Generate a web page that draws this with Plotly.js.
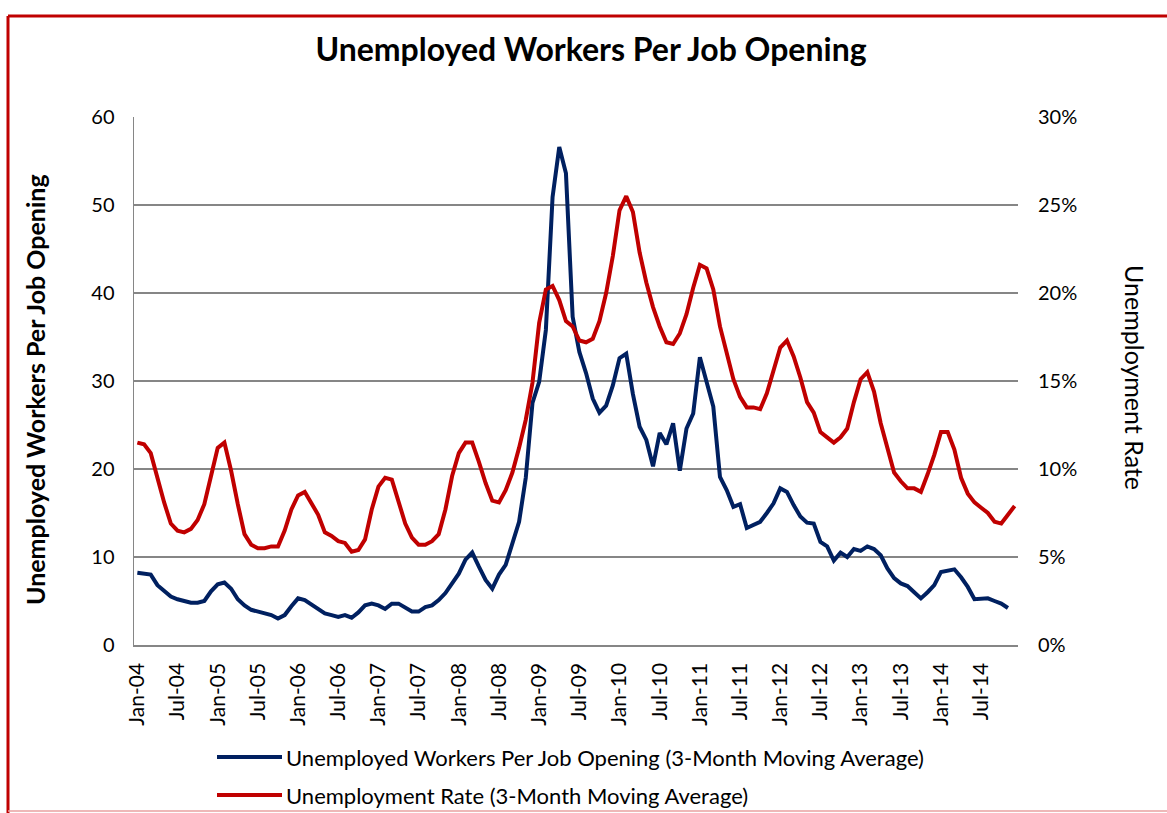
<!DOCTYPE html>
<html><head><meta charset="utf-8">
<script src="https://cdn.plot.ly/plotly-3.0.1.min.js"></script>
<style>html,body{margin:0;padding:0;background:#fff;} #chart{width:1167px;height:813px;}</style>
</head><body><div id="chart"></div>
<script>
// Categories (monthly, Jan-04 .. Dec-14)
const years = ['04','05','06','07','08','09','10','11','12','13','14'];
const monthNames = ['Jan','Feb','Mar','Apr','May','Jun','Jul','Aug','Sep','Oct','Nov','Dec'];
const months = [];
years.forEach(y => monthNames.forEach(m => months.push(m + '-' + y)));

// Tick labels shown on the x axis
const tickLabels = ['Jan-04','Jul-04','Jan-05','Jul-05','Jan-06','Jul-06','Jan-07','Jul-07',
  'Jan-08','Jul-08','Jan-09','Jul-09','Jan-10','Jul-10','Jan-11','Jul-11',
  'Jan-12','Jul-12','Jan-13','Jul-13','Jan-14','Jul-14'];

// Unemployed workers per job opening (3-month moving average), Jan-04 .. Nov-14
const workersPerOpening = [
  8.2, 8.1, 8.0, 6.8, 6.2, 5.5, 5.2, 5.0, 4.8, 4.8, 5.0, 6.1,
  6.9, 7.1, 6.4, 5.2, 4.5, 4.0, 3.8, 3.6, 3.4, 3.0, 3.4, 4.4,
  5.3, 5.1, 4.6, 4.0, 3.6, 3.4, 3.2, 3.4, 3.1, 3.7, 4.5, 4.7,
  4.5, 4.1, 4.7, 4.7, 4.3, 3.8, 3.8, 4.3, 4.5, 5.1, 5.9, 7.0,
  8.1, 9.7, 10.5, 8.9, 7.4, 6.4, 8.0, 9.1, 11.4, 14.0, 19.0, 27.5,
  29.9, 35.8, 50.9, 56.6, 53.6, 37.3, 33.3, 30.9, 28.0, 26.4, 27.2, 29.5,
  32.6, 33.1, 28.5, 24.8, 23.3, 20.3, 24.1, 22.8, 25.2, 19.8, 24.6, 26.3,
  32.7, 29.9, 27.1, 19.1, 17.6, 15.7, 16.0, 13.3, 13.6, 14.0, 15.0, 16.1,
  17.8, 17.4, 15.9, 14.6, 13.9, 13.8, 11.7, 11.2, 9.6, 10.5, 10.0, 10.9,
  10.7, 11.2, 10.9, 10.2, 8.7, 7.6, 7.0, 6.7, 6.0, 5.3, 6.0, 6.8,
  8.3, 8.5, 8.6, 7.7, 6.6, 5.2, 5.2, 5.3, 5.0, 4.7, 4.2
];

// Unemployment rate (3-month moving average, %), Jan-04 .. Dec-14
const unemploymentRate = [
  11.5, 11.4, 10.9, 9.4, 8.1, 6.9, 6.5, 6.4, 6.6, 7.1, 8.0, 9.6,
  11.2, 11.5, 9.9, 8.0, 6.3, 5.7, 5.5, 5.5, 5.6, 5.6, 6.5, 7.7,
  8.5, 8.7, 8.1, 7.4, 6.4, 6.2, 5.9, 5.8, 5.3, 5.4, 6.0, 7.7,
  9.0, 9.5, 9.4, 8.1, 6.9, 6.1, 5.7, 5.7, 5.9, 6.3, 7.7, 9.6,
  10.9, 11.5, 11.5, 10.4, 9.2, 8.2, 8.1, 8.8, 9.8, 11.2, 12.8, 14.9,
  18.3, 20.2, 20.4, 19.6, 18.4, 18.1, 17.3, 17.2, 17.4, 18.4, 20.0, 22.1,
  24.7, 25.5, 24.6, 22.3, 20.6, 19.2, 18.1, 17.2, 17.1, 17.7, 18.8, 20.3,
  21.6, 21.4, 20.2, 18.1, 16.5, 15.1, 14.1, 13.5, 13.5, 13.4, 14.3, 15.6,
  16.9, 17.3, 16.4, 15.2, 13.8, 13.2, 12.1, 11.8, 11.5, 11.8, 12.3, 13.8,
  15.1, 15.5, 14.4, 12.6, 11.1, 9.8, 9.3, 8.9, 8.9, 8.7, 9.7, 10.8,
  12.1, 12.1, 11.1, 9.5, 8.6, 8.1, 7.8, 7.5, 7.0, 6.9, 7.4, 7.9
];

const seriesNames = ['Unemployed Workers Per Job Opening (3-Month Moving Average)',
                     'Unemployment Rate (3-Month Moving Average)'];
const seriesColors = ['#002060', '#C00000'];

const FONT = 'Lato, "Open Sans", sans-serif';
const GRID = '#868686';

// plot area geometry (pixels) for paper-coordinate decorations
const W = 1167, H = 813, L = 134, R = 149, T = 117, B = 168;
const PW = W - L - R, PH = H - T - B;
const px = x => (x - L) / PW;
const py = y => (H - B - y) / PH;

const traces = [
  { x: months.slice(0, workersPerOpening.length), y: workersPerOpening, type: 'scatter', mode: 'lines',
    name: seriesNames[0], line: { color: seriesColors[0], width: 4 }, yaxis: 'y', hoverinfo: 'skip' },
  { x: months.slice(0, unemploymentRate.length), y: unemploymentRate, type: 'scatter', mode: 'lines',
    name: seriesNames[1], line: { color: seriesColors[1], width: 4 }, yaxis: 'y2', hoverinfo: 'skip' }
];

const legendRows = [757, 795];
const shapes = [
  // red frame
  { type: 'line', xref: 'paper', yref: 'paper', x0: px(8), x1: px(8), y0: py(16), y1: py(813), line: { color: '#C00000', width: 3 } },
  { type: 'line', xref: 'paper', yref: 'paper', x0: px(8), x1: px(1167), y0: py(16), y1: py(16), line: { color: '#C00000', width: 3 } },
  { type: 'line', xref: 'paper', yref: 'paper', x0: px(8), x1: px(1167), y0: py(811), y1: py(811), line: { color: '#E8A0A0', width: 1.5 } }
];
const annotations = [
  { xref: 'paper', yref: 'paper', x: px(35), y: py(390), text: '<b>Unemployed Workers Per Job Opening</b>',
    textangle: -90, showarrow: false, font: { family: FONT, size: 25, color: '#000' }, xanchor: 'center', yanchor: 'middle' },
  { xref: 'paper', yref: 'paper', x: px(1135), y: py(377), text: 'Unemployment Rate',
    textangle: 90, showarrow: false, font: { family: FONT, size: 25, color: '#000' }, xanchor: 'center', yanchor: 'middle' }
];
seriesNames.forEach((n, i) => {
  shapes.push({ type: 'line', xref: 'paper', yref: 'paper', x0: px(217), x1: px(282), y0: py(legendRows[i]), y1: py(legendRows[i]),
    line: { color: seriesColors[i], width: 4 } });
  annotations.push({ xref: 'paper', yref: 'paper', x: px(284), y: py(legendRows[i]), text: n, showarrow: false,
    xanchor: 'left', yanchor: 'middle', font: { family: FONT, size: 22, color: '#000' } });
});

const layout = {
  width: W, height: H,
  margin: { l: L, r: R, t: T, b: B, pad: 0 },
  paper_bgcolor: '#fff', plot_bgcolor: '#fff',
  font: { family: FONT, color: '#000' },
  showlegend: false,
  title: { text: '<b>Unemployed Workers Per Job Opening</b>', font: { family: FONT, size: 32, color: '#000' },
    x: 591 / W, xanchor: 'center', y: 1 - 50 / H, yanchor: 'middle', xref: 'container', yref: 'container' },
  xaxis: { type: 'category', categoryorder: 'array', categoryarray: months, range: [-0.5, months.length - 0.5],
    tickmode: 'array', tickvals: tickLabels, ticktext: tickLabels, tickangle: -90,
    ticks: 'outside', ticklen: 8, tickcolor: 'rgba(0,0,0,0)', showgrid: false, zeroline: false,
    showline: true, linecolor: GRID, linewidth: 1.5, tickfont: { family: FONT, size: 21, color: '#000' }, fixedrange: true },
  yaxis: { range: [0, 60], dtick: 10, showgrid: true, gridcolor: GRID, gridwidth: 1.3, zeroline: false,
    showline: true, linecolor: GRID, linewidth: 1.5, ticks: 'outside', ticklen: 14, tickcolor: 'rgba(0,0,0,0)',
    tickfont: { family: FONT, size: 20, color: '#000' }, fixedrange: true },
  yaxis2: { overlaying: 'y', side: 'right', range: [0, 30], dtick: 5, ticksuffix: '%', showgrid: false, zeroline: false,
    showline: false, ticks: 'outside', ticklen: 15, tickcolor: 'rgba(0,0,0,0)',
    tickfont: { family: FONT, size: 20, color: '#000' }, fixedrange: true },
  shapes: shapes,
  annotations: annotations
};

Plotly.newPlot('chart', traces, layout, { displayModeBar: false, staticPlot: true });
</script>
</body></html>
